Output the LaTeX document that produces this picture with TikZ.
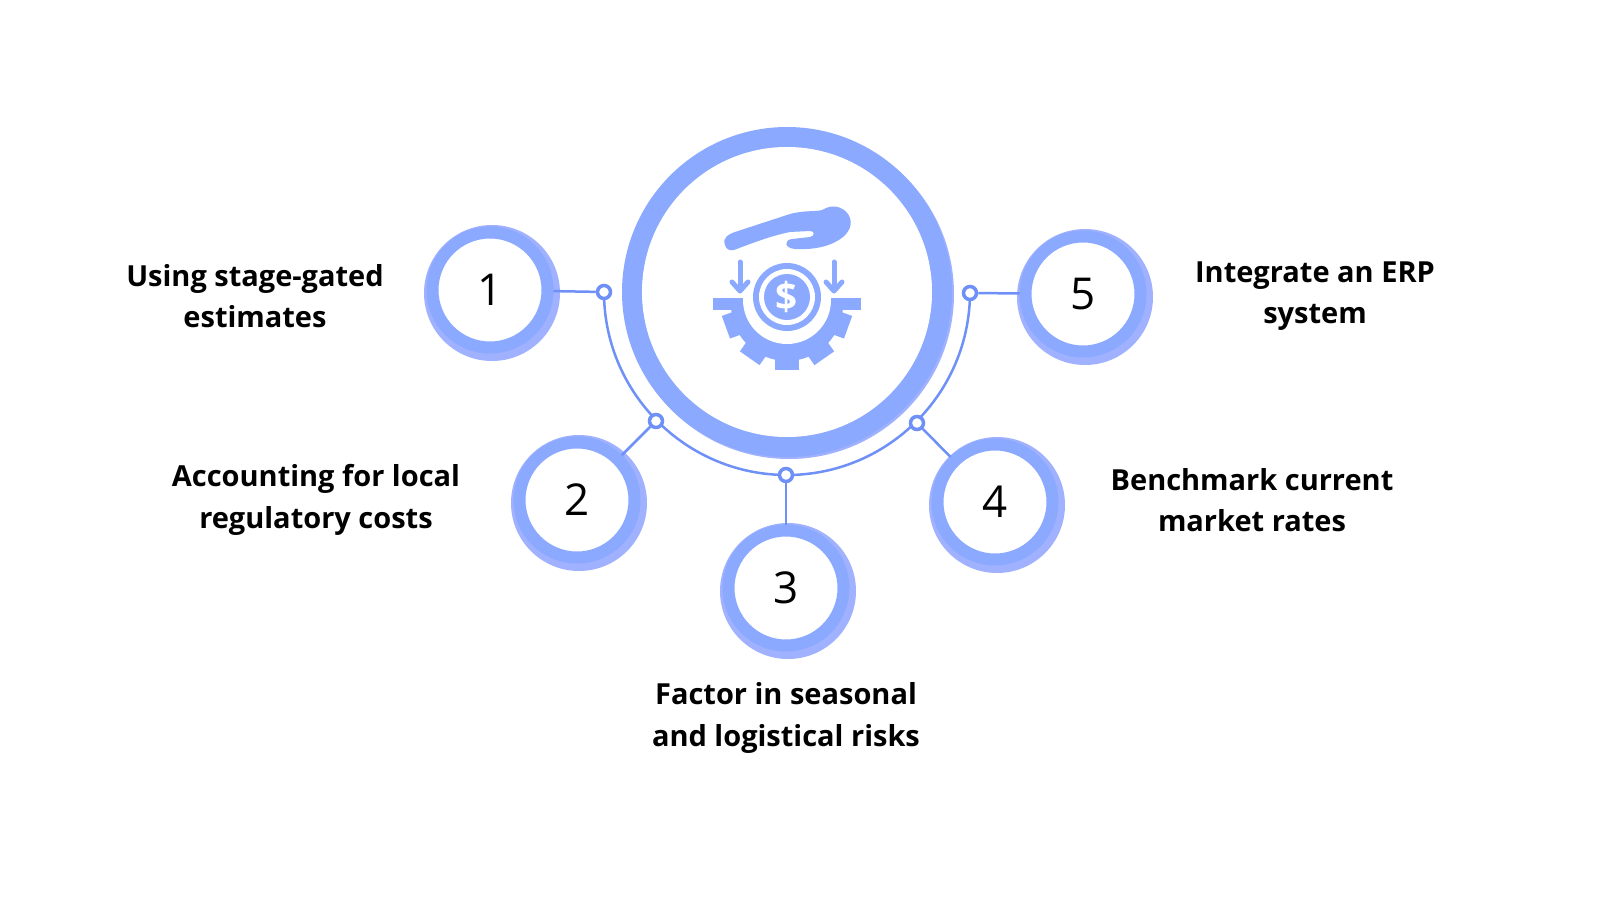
\documentclass[tikz,border=0pt]{standalone}
\usepackage{fontspec}
\setmainfont{Open Sans}
\usetikzlibrary{calc}
\definecolor{ringblue}{HTML}{8AA9FF}
\definecolor{lineblue}{HTML}{6E90F7}
\tikzset{
  ringc/.style={draw=ringblue, line width=0.24cm, fill=white},
  numtxt/.style={font=\fontsize{25}{25}\selectfont},
  steptxt/.style={font=\bfseries\fontsize{16.5}{23.5}\selectfont, align=center},
  dotc/.style={draw=lineblue, line width=0.07cm, fill=white, circle, inner sep=0pt, minimum size=0.26cm},
  iconfill/.style={fill=ringblue, draw=none}
}
\begin{document}
\begin{tikzpicture}[x=0.02cm,y=-0.02cm]
\useasboundingbox (0,0) rectangle (1600,900);

% centre ring
\fill[ringblue!85!blue!70] (789,294) circle (165);
\draw[ringblue, line width=0.4cm] (787,292) circle (155);
\fill[white] (787,292) circle (145);

% connecting arc
\draw[lineblue, line width=0.05cm] (604,292) arc (180:360:183 and -183);

% numbered circles
\foreach \n/\x/\y in {1/490/290, 2/577/500, 3/786/588, 4/995/502, 5/1083/294}{
  \fill[ringblue!85!blue!70] (\x+2,\y+3) circle (68);
  \node[ringc, circle, minimum size=2.3cm, numtxt] (c\n) at (\x,\y) {\n};
}

% dots on the arc
\node[dotc] (d1) at (604,292) {};
\node[dotc] (d2) at (656,421) {};
\node[dotc] (d3) at (786,475) {};
\node[dotc] (d4) at (917,423) {};
\node[dotc] (d5) at (970,293) {};
\foreach \n in {1,...,5}
  \draw[lineblue, line width=0.05cm] (d\n) -- (c\n);

% labels
\node[steptxt] (t1) at (255,296) {Using stage-gated\\estimates};
\node[steptxt] (t2) at (316,500) {Accounting for local\\regulatory costs};
\node[steptxt] (t3) at (786,718) {Factor in seasonal\\and logistical risks};
\node[steptxt] (t4) at (1252,500) {Benchmark current\\market rates};
\node[steptxt] (t5) at (1315,296) {Integrate an ERP\\system};

% icon: gear
\begin{scope}
\clip (700,300) rectangle (880,380);
\fill[iconfill] (787,305) circle (56);
\end{scope}
\foreach \a in {-70,-35,0,35,70}
  \fill[iconfill, rotate around={\a:(787,305)}] (775,350) rectangle (799,370);
\fill[iconfill] (713,298) rectangle (861,310);
\fill[white] (787,300) circle (44);
% coin
\fill[iconfill] (787,297) circle (34);
\fill[white] (787,297) circle (28);
\fill[iconfill] (787,297) circle (23);
\node[text=white, font=\bfseries\fontsize{22}{22}\selectfont] (dol) at (787,297) {\$};
% arrows
\foreach \x in {740,834}{
  \draw[ringblue, line width=0.1cm, line cap=round] (\x,262) -- (\x,290);
  \draw[ringblue, line width=0.1cm, line cap=round, line join=round] (\x-8,282) -- (\x,291) -- (\x+8,282);
}
% hand
\fill[iconfill] (725,245) .. controls (722,238) and (728,234) .. (738,231)
  -- (790,214) .. controls (805,210) and (815,212) .. (822,210)
  .. controls (832,204) and (842,206) .. (848,214)
  .. controls (853,222) and (851,230) .. (843,237)
  .. controls (832,246) and (815,250) .. (795,249)
  .. controls (784,248) and (784,240) .. (792,239)
  -- (810,237) .. controls (815,236) and (815,231) .. (810,231)
  -- (790,232) .. controls (770,236) and (750,244) .. (734,250)
  .. controls (729,251) and (726,249) .. (725,245) -- cycle;
\end{tikzpicture}
\end{document}
